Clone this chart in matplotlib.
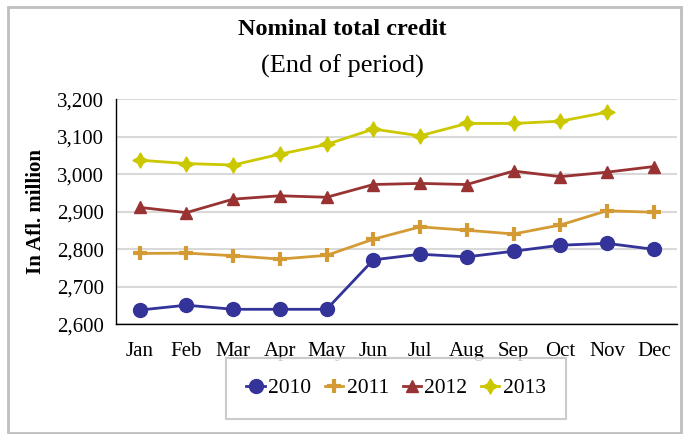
import matplotlib.pyplot as plt
from matplotlib.patches import Rectangle
from matplotlib.ticker import FuncFormatter

months = ['Jan', 'Feb', 'Mar', 'Apr', 'May', 'Jun', 'Jul', 'Aug', 'Sep', 'Oct', 'Nov', 'Dec']

# end-of-period credit, Afl. million
y2010 = [2638, 2651, 2640, 2640, 2640, 2772, 2787, 2780, 2795, 2811, 2816, 2800]
y2011 = [2789, 2790, 2783, 2774, 2784, 2827, 2860, 2851, 2841, 2865, 2903, 2899]
y2012 = [2912, 2898, 2934, 2943, 2939, 2973, 2976, 2973, 3009, 2994, 3006, 3021]
y2013 = [3038, 3029, 3025, 3054, 3080, 3121, 3103, 3136, 3136, 3142, 3166]

plt.rcParams['font.family'] = ['Liberation Serif', 'DejaVu Serif']

fig = plt.figure(figsize=(6.84, 4.34), dpi=100)
fig.patch.set_facecolor('white')
ax = fig.add_axes([0.170, 0.2528, 0.820, 0.518])

x = list(range(len(months)))
ax.plot(x, y2010, color='#333399', lw=2, marker='o', ms=10, label='2010')
ax.plot(x, y2011, color='#D49B35', lw=2, marker='+', ms=10, mew=3, label='2011')
ax.plot(x, y2012, color='#993333', lw=2, marker='^', ms=9, label='2012')
ax.plot(x[:len(y2013)], y2013, color='#CCC800', lw=2, marker=(4, 1, 0), ms=11, label='2013')

ax.set_xlim(-0.5, 11.5)
ax.set_ylim(2600, 3200)
ax.set_yticks(range(2600, 3201, 100))
ax.yaxis.set_major_formatter(FuncFormatter(lambda v, p: f'{int(v):,}'))
ax.set_xticks(x)
ax.set_xticklabels(months)
ax.tick_params(length=0, labelsize=15, pad=13)
ax.tick_params(axis='y', pad=9)
ax.grid(axis='y', color='#D9D9D9', lw=1.5)
ax.set_axisbelow(True)
for s in ['top', 'right']:
    ax.spines[s].set_visible(False)
for s in ['left', 'bottom']:
    ax.spines[s].set_color('black')
    ax.spines[s].set_linewidth(1)

ax.set_ylabel('In Afl. million', fontsize=15, fontweight='bold', labelpad=8)

fig.text(0.5, 0.933, 'Nominal total credit', ha='center', va='center', fontsize=17.5, fontweight='bold')
fig.text(0.5, 0.847, '(End of period)', ha='center', va='center', fontsize=19)

leg = fig.legend(loc='center', bbox_to_anchor=(0.579, 0.105), ncol=4, fontsize=15.5,
                 frameon=True, fancybox=False, edgecolor='#BFBFBF', handlelength=0.85,
                 handletextpad=0.15, columnspacing=0.65, borderpad=0.95, borderaxespad=0)
leg.get_frame().set_linewidth(1.5)

fig.patches.append(Rectangle((0.011, 0.003), 0.985, 0.982, transform=fig.transFigure,
                             fill=False, edgecolor='#BFBFBF', lw=2))

fig.savefig('out.png', dpi=100)
